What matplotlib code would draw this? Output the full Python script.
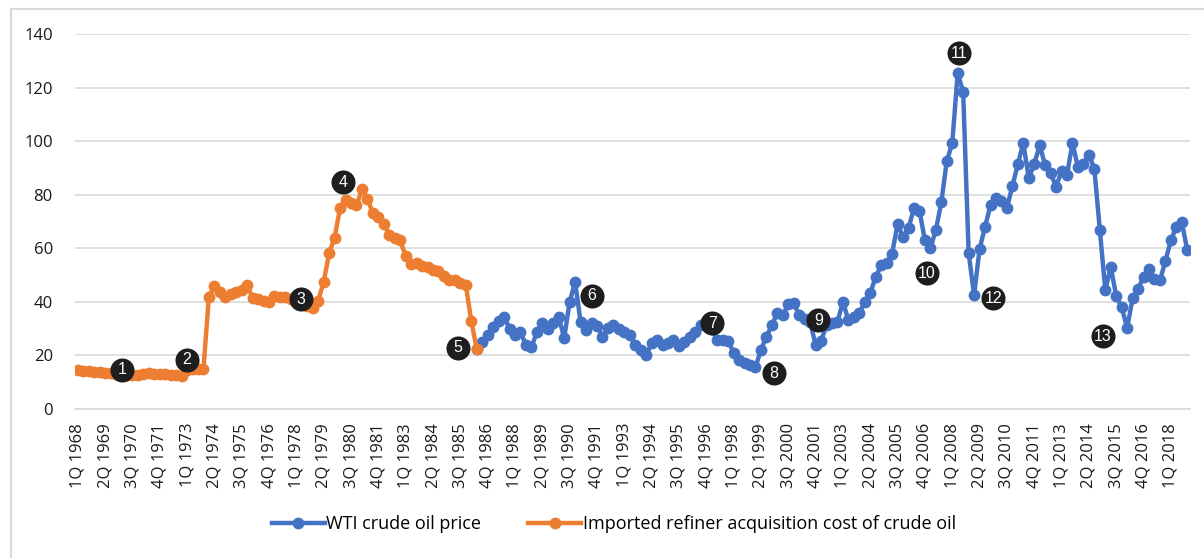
import matplotlib
matplotlib.use('Agg')
import matplotlib.pyplot as plt
from matplotlib.lines import Line2D
from matplotlib.patches import Rectangle

# quarterly, 1Q 1968 .. 4Q 2018
quarters = [f'{q}Q {y}' for y in range(1968, 2019) for q in range(1, 5)]

# imported refiner acquisition cost, 1Q 1968 .. 2Q 1986
refiner_cost = [
    14.5, 14.3, 14.2, 14.0, 13.8, 13.5, 13.3, 13.0, 12.8, 12.8,
    12.7, 12.8, 13.0, 13.4, 13.2, 13.0, 12.9, 12.8, 12.7, 12.5,
    14.6, 14.8, 14.8, 15.0, 42.0, 45.8, 43.5, 42.0, 42.8, 43.6,
    44.5, 46.2, 41.4, 41.0, 40.5, 39.8, 42.3, 42.0, 41.8, 41.0,
    40.2, 39.5, 38.5, 37.8, 40.5, 47.5, 58.2, 64.0, 75.0, 78.0,
    77.0, 76.0, 82.0, 78.5, 73.0, 71.5, 69.2, 65.0, 64.0, 63.0,
    57.0, 54.0, 54.5, 53.5, 53.0, 52.0, 51.5, 49.5, 48.0, 48.2,
    47.0, 46.2, 33.0, 22.3,
]

# WTI crude oil price, 2Q 1986 .. 4Q 2018
wti_start = 73
wti_price = [
    22.5, 25.0, 27.5, 30.6, 33.0, 34.5, 30.0, 27.6, 28.7, 24.0,
    23.0, 28.7, 32.0, 29.8, 32.0, 34.4, 26.5, 40.0, 47.4, 32.5,
    29.5, 32.0, 31.0, 27.0, 30.2, 31.3, 30.0, 28.7, 27.6, 24.0,
    22.0, 20.0, 24.6, 25.7, 24.0, 24.5, 25.7, 23.5, 25.0, 27.0,
    28.7, 31.3, 32.5, 30.0, 25.7, 25.7, 25.5, 20.9, 18.3, 17.2,
    16.4, 15.7, 22.0, 27.0, 31.3, 35.8, 35.0, 39.2, 39.5, 35.0,
    33.5, 32.5, 24.0, 25.4, 31.3, 32.0, 32.5, 40.0, 33.2, 34.3,
    35.8, 40.0, 43.3, 49.3, 53.7, 54.5, 58.0, 69.0, 64.2, 67.5,
    75.0, 74.0, 63.0, 60.0, 66.8, 77.2, 92.5, 99.3, 125.4, 118.3,
    58.2, 42.5, 59.7, 68.0, 76.0, 78.7, 77.5, 75.0, 83.2, 91.4,
    99.3, 86.2, 91.4, 98.5, 91.0, 88.0, 83.0, 88.8, 87.5, 99.3,
    90.3, 91.4, 95.0, 89.6, 66.8, 44.4, 53.0, 42.2, 38.0, 30.2,
    41.4, 44.8, 49.3, 52.2, 48.5, 48.0, 55.2, 63.0, 68.0, 69.8,
    59.3,
]

# numbered event markers (quarter index, value)
event_labels = ['1', '2', '3', '4', '5', '6', '7', '8', '9', '10', '11', '12', '13']
event_x = [8.1, 20.0, 40.8, 48.5, 69.5, 94.0, 116.1, 127.3, 135.5, 155.4, 161.3, 167.5, 187.6]
event_y = [14.6, 18.3, 41.0, 84.7, 22.8, 42.2, 32.0, 13.4, 33.2, 50.7, 132.8, 41.4, 27.2]

blue = '#4472C4'
orange = '#ED7D31'
grid_col = '#D9D9D9'

plt.rcParams['font.family'] = ['Open Sans', 'DejaVu Sans']

fig = plt.figure(figsize=(12.04, 5.58), dpi=100)
ax = fig.add_axes([75 / 1204, 1 - 409 / 558, (1190 - 75) / 1204, (409 - 34) / 558])

x_ref = list(range(len(refiner_cost)))
x_wti = list(range(wti_start, wti_start + len(wti_price)))

ax.plot(x_wti, wti_price, color=blue, linewidth=3.2, marker='o', markersize=7.5,
        solid_capstyle='round', zorder=3)
ax.plot(x_ref, refiner_cost, color=orange, linewidth=3.2, marker='o', markersize=7.5,
        solid_capstyle='round', zorder=4)

ax.scatter(event_x, event_y, s=300, color='#1E1E1E', zorder=5, linewidths=0)
for lab, ex, ey in zip(event_labels, event_x, event_y):
    ax.text(ex, ey, lab, color='white', ha='center', va='center', fontsize=11.5,
            family=['Liberation Sans', 'DejaVu Sans'], zorder=6)

ax.set_xlim(-0.5, len(quarters) - 0.5)
ax.set_ylim(0, 140)
ax.set_yticks(range(0, 141, 20))
ax.set_xticks(range(0, len(quarters), 5))
ax.set_xticklabels(quarters[::5], rotation=90, fontsize=12, color='#1A1A1A')
ax.tick_params(axis='y', labelsize=12, colors='#1A1A1A', length=0, pad=16)
ax.tick_params(axis='x', length=0, pad=10)

ax.grid(axis='y', color=grid_col, linewidth=1.2)
ax.set_axisbelow(True)
for s in ['top', 'right', 'left']:
    ax.spines[s].set_visible(False)
ax.spines['bottom'].set_color(grid_col)
ax.spines['bottom'].set_linewidth(1.2)

handles = [
    Line2D([0], [0], color=blue, linewidth=3.2, marker='o', markersize=7.5),
    Line2D([0], [0], color=orange, linewidth=3.2, marker='o', markersize=7.5),
]
fig.legend(handles, ['WTI crude oil price', 'Imported refiner acquisition cost of crude oil'],
           loc='center', bbox_to_anchor=(614 / 1204, 1 - 524 / 558), ncol=2, frameon=False,
           fontsize=13, handlelength=2.9, handletextpad=0.1, columnspacing=2.6)

fig.patches.append(Rectangle((11 / 1204, -0.1), 1.2, 1.1 - 9 / 558, transform=fig.transFigure,
                             fill=False, edgecolor='#D9D9D9', linewidth=1.5))

fig.savefig('out.png', dpi=100)
